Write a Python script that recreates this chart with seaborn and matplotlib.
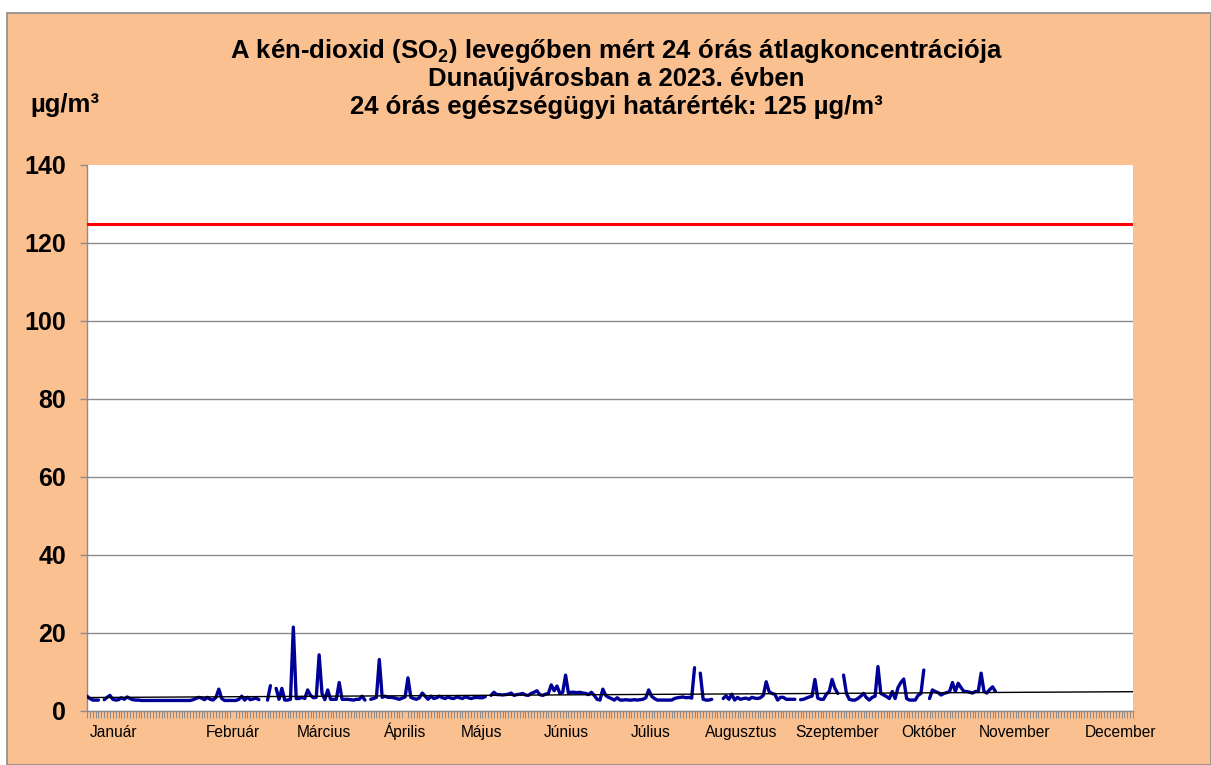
import numpy as np
import pandas as pd
import matplotlib
matplotlib.use("Agg")
import matplotlib.pyplot as plt
from matplotlib.patches import Rectangle
import seaborn as sns

nan = np.nan

# napi SO2 átlagok (µg/m3), hónaponként, leolvasva az ábráról
jan = [3.8, 3.2, 2.8, 2.8, 2.8, nan, 2.9, 3.5, 4.0, 3.0, 2.8, 2.9, 3.4, 3.0, 3.6, 3.2,
       2.9, 2.8, 2.8, 2.7, 2.7, 2.7, 2.7, 2.7, 2.7, 2.7, 2.7, 2.7, 2.7, 2.7, 2.7]
feb = [2.7, 2.7, 2.7, 2.7, 2.7, 2.7, 2.9, 3.2, 3.5, 3.3, 2.9, 3.5, 3.0, 2.8, 3.5, 5.6,
       3.2, 2.7, 2.7, 2.7, 2.7, 2.7, 3.0, 3.8, 2.8, 3.5, 2.9, 3.1]
mar = [3.3, 2.9, nan, nan, 2.8, 6.5, nan, 5.8, 3.0, 5.8, 2.8, 2.8, 3.0, 21.5, 3.2, 3.2,
       3.5, 3.2, 5.4, 4.0, 3.4, 3.5, 14.4, 4.5, 2.9, 5.4, 3.0, 3.0, 3.0, 7.3, 3.0]
apr = [3.0, 3.0, 2.9, 2.8, 3.0, 3.0, 3.8, 2.8, nan, 3.0, 3.2, 3.5, 13.2, 3.5, 3.8,
       3.5, 3.5, 3.4, 3.2, 3.0, 3.3, 3.6, 8.5, 3.5, 3.2, 3.0, 3.4, 4.6, 3.8, 3.0]
may = [3.8, 3.2, 3.4, 3.8, 3.4, 3.2, 3.6, 3.3, 3.2, 3.6, 3.4, 3.2, 3.6, 3.4, 3.2, 3.4,
       3.5, 3.4, 3.4, 3.7, nan, 4.0, 4.8, 4.2, 4.2, 4.1, 4.2, 4.3, 4.6, 4.0, 4.2]
jun = [4.3, 4.5, 4.1, 4.0, 4.5, 4.8, 5.2, 4.2, 4.0, 4.3, 4.5, 6.7, 5.2, 6.4, 4.5,
       4.8, 9.2, 4.6, 4.8, 4.8, 4.7, 4.8, 4.6, 4.5, 4.2, 4.8, 4.0, 3.0, 2.8, 5.6]
jul = [4.0, 3.5, 3.2, 2.8, 3.4, 2.8, 2.8, 2.9, 2.8, 2.8, 2.9, 2.8, 2.9, 3.0, 3.4, 5.4,
       3.8, 3.2, 2.8, 2.8, 2.8, 2.8, 2.8, 2.8, 3.2, 3.4, 3.5, 3.6, 3.4, 3.5, 3.3]
aug = [11.1, nan, 9.7, 3.0, 2.8, 2.8, 3.0, nan, nan, nan, 3.2, 3.9, 3.0, 4.3, 2.8, 3.5,
       3.0, 3.2, 3.3, 3.0, 3.5, 3.3, 3.2, 3.4, 4.0, 7.5, 5.0, 4.5, 4.3, 2.8, 3.5]
sep = [3.5, 3.0, 3.0, 3.0, 3.0, nan, 2.9, 3.0, 3.3, 3.6, 3.8, 8.1, 3.3, 3.0, 3.0,
       4.3, 5.0, 8.1, 5.8, 4.5, nan, 9.2, 4.5, 3.0, 2.8, 2.8, 3.2, 3.8, 4.5, 3.4]
okt = [2.8, 3.5, 3.8, 11.4, 4.5, 4.1, 3.7, 3.2, 5.0, 3.2, 6.0, 7.3, 8.2, 3.2, 2.8, 2.8,
       2.8, 4.0, 4.5, 10.5, nan, 3.2, 5.4, 5.0, 4.7, 4.1, 4.5, 4.7, 5.0, 7.3, 5.0]
nov = [7.1, 6.0, 5.0, 5.0, 4.8, 4.6, 5.0, 5.0, 9.7, 5.0, 4.6, 5.5, 6.2, 5.0] + [nan] * 16
dec = [nan] * 31

honapok = ["Január", "Február", "Március", "Április", "Május", "Június", "Július",
           "Augusztus", "Szeptember", "Október", "November", "December"]
# a feliratok helye (nap sorszáma), ahogy az eredetin állnak
felirat_nap = [9.2, 51, 82.7, 111, 137.8, 167.3, 196.6, 228.4, 261.7, 293.6, 323.5, 360.6]

hatarertek = 125
trend_nap = [0, 365]
trend_ertek = [3.45, 4.95]

ertekek = np.concatenate([jan, feb, mar, apr, may, jun, jul, aug, sep, okt, nov, dec])
df = pd.DataFrame({"nap": np.arange(len(ertekek)), "so2": ertekek})
df["szakasz"] = df["so2"].isna().cumsum()
df = df.dropna()

sns.set_style("white")
plt.rcParams["font.family"] = ["Liberation Sans", "DejaVu Sans"]
plt.rcParams["text.color"] = "black"
plt.rcParams["xtick.labelcolor"] = "black"
plt.rcParams["ytick.labelcolor"] = "black"
plt.rcParams["mathtext.fontset"] = "custom"
plt.rcParams["mathtext.rm"] = "Liberation Sans"
plt.rcParams["mathtext.bf"] = "Liberation Sans:bold"
plt.rcParams["mathtext.it"] = "Liberation Sans:italic"

W, H = 1211, 765
fig = plt.figure(figsize=(W / 100, H / 100), dpi=100, facecolor="white")
fig.patches.append(Rectangle((7 / W, 0), 1 - 7 / W, 1 - 13 / H, transform=fig.transFigure,
                             facecolor="#FAC090", edgecolor="#8C8C8C", lw=1.2, zorder=-10))

ax = fig.add_axes([87 / W, 54 / H, 1046 / W, 546 / H])
ax.set_facecolor("white")

# adatsor, megszakításokkal
sns.lineplot(data=df, x="nap", y="so2", units="szakasz", estimator=None,
             color="#000099", lw=2.4, ax=ax, zorder=3)
# trendvonal
sns.lineplot(x=trend_nap, y=trend_ertek, color="black", lw=1, ax=ax, zorder=4)
# egészségügyi határérték
ax.axhline(hatarertek, color="#FF0000", lw=2.2, zorder=3)

ax.set_xlim(0, 365)
ax.set_ylim(0, 140)
ax.set_xlabel("")
ax.set_ylabel("")

ax.set_yticks(range(0, 141, 20))
ax.set_yticklabels([str(v) for v in range(0, 141, 20)], fontsize=18, fontweight="bold")
ax.set_xticks(felirat_nap)
ax.set_xticklabels(honapok, fontsize=11.2, va="baseline")
ax.set_xticks(np.arange(0, 366), minor=True)

ax.tick_params(axis="x", which="major", bottom=True, length=0, pad=18.5)
ax.tick_params(axis="x", which="minor", bottom=True, length=5, width=0.7,
               color="#8C8C8C", direction="out")
ax.tick_params(axis="y", left=True, length=5, width=1, color="#8C8C8C", pad=10)

ax.yaxis.grid(True, color="#8C8C8C", lw=1)
ax.get_ygridlines()[-1].set_visible(False)
ax.set_axisbelow(True)

for s in ["top", "right"]:
    ax.spines[s].set_visible(False)
for s in ["left", "bottom"]:
    ax.spines[s].set_color("#8C8C8C")
    ax.spines[s].set_linewidth(1)

cim = ["A kén-dioxid (SO$_\\mathbf{2}$) levegőben mért 24 órás átlagkoncentrációja",
       "Dunaújvárosban a 2023. évben",
       "24 órás egészségügyi határérték: 125 µg/m³"]
for i, sor in enumerate(cim):
    fig.text(616 / W, 1 - (58 + 28 * i) / H, sor, ha="center", va="baseline",
             fontsize=18.5, fontweight="bold")

fig.text(30 / W, 1 - 112 / H, "µg/m³", ha="left", va="baseline",
         fontsize=18.5, fontweight="bold")

fig.savefig("out.png", dpi=100, facecolor=fig.get_facecolor())
